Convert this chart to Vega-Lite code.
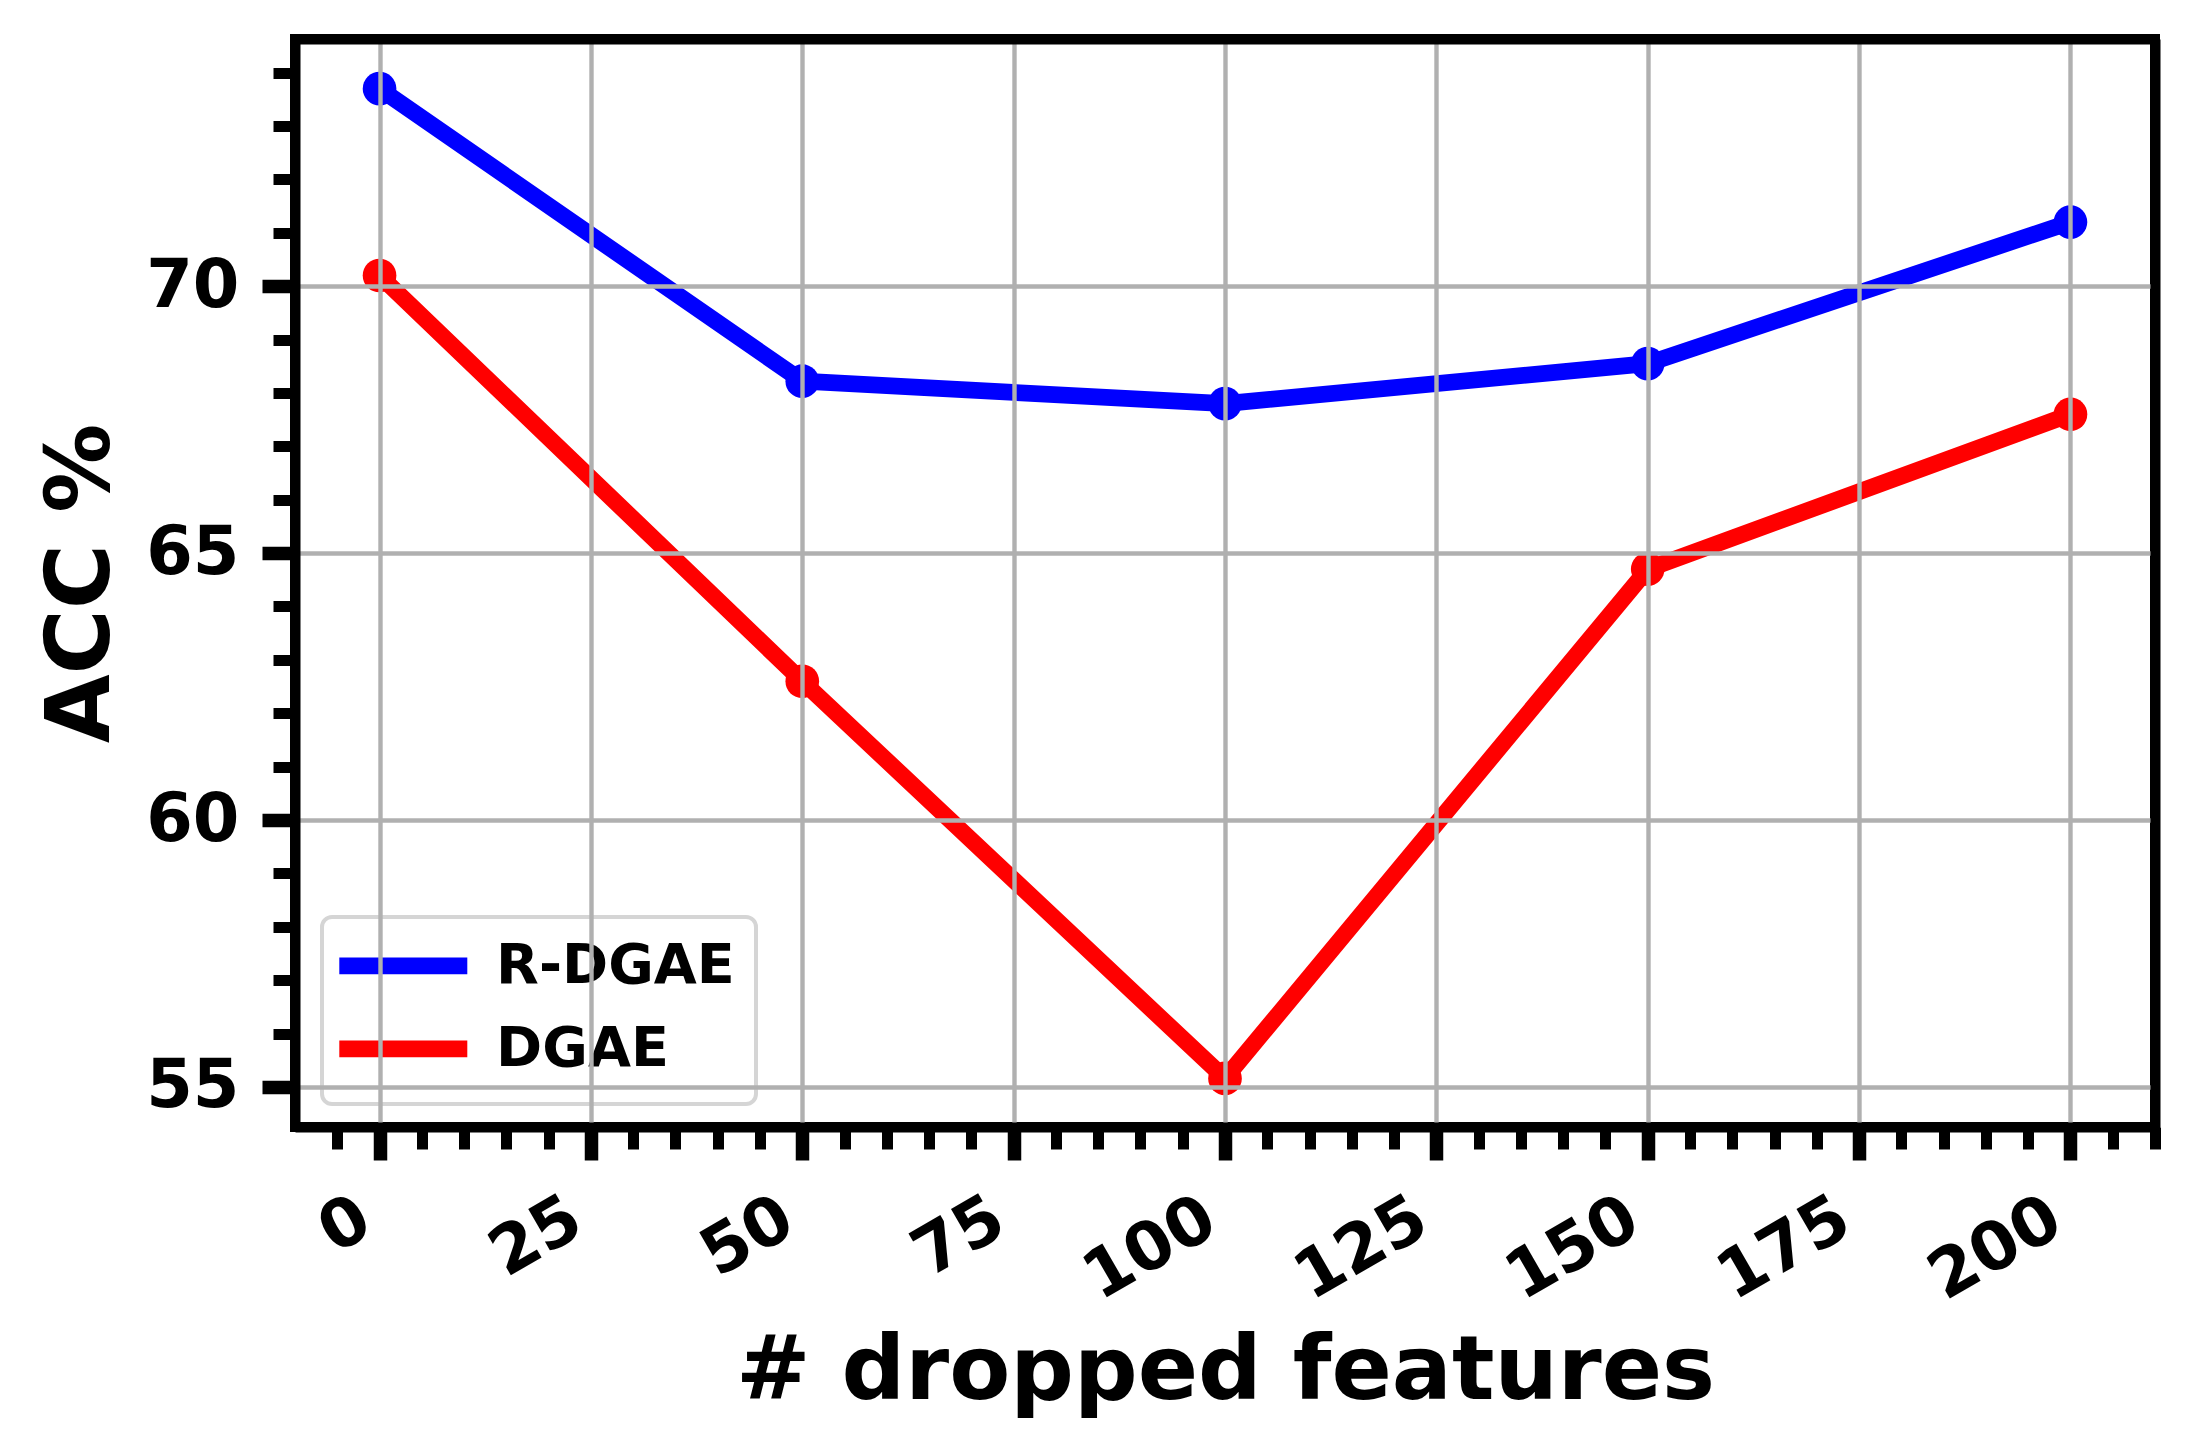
{
  "$schema": "https://vega.github.io/schema/vega-lite/v6.json",
  "width": 1860,
  "height": 1088,
  "autosize": {"type": "none"},
  "padding": {"left": 295, "top": 39, "right": 39, "bottom": 329},
  "background": "white",
  "config": {
    "font": "DejaVu Sans",
    "view": {"stroke": "black", "strokeWidth": 10}
  },
  "data": {
    "values": [
      {"method": "R-DGAE", "features": 0, "acc": 73.7},
      {"method": "R-DGAE", "features": 50, "acc": 68.22},
      {"method": "R-DGAE", "features": 100, "acc": 67.8},
      {"method": "R-DGAE", "features": 150, "acc": 68.55},
      {"method": "R-DGAE", "features": 200, "acc": 71.2},
      {"method": "DGAE", "features": 0, "acc": 70.2},
      {"method": "DGAE", "features": 50, "acc": 62.6},
      {"method": "DGAE", "features": 100, "acc": 55.16},
      {"method": "DGAE", "features": 150, "acc": 64.7},
      {"method": "DGAE", "features": 200, "acc": 67.6}
    ]
  },
  "layer": [
    {
      "mark": {"type": "line", "strokeWidth": 16.7, "strokeJoin": "round", "strokeCap": "square"},
      "encoding": {
        "x": {
          "field": "features", "type": "quantitative",
          "scale": {"domain": [-10, 210], "nice": false, "zero": false},
          "axis": {
            "orient": "bottom",
            "values": [0, 25, 50, 75, 100, 125, 150, 175, 200],
            "title": "# dropped features",
            "titleFont": "DejaVu Sans", "titleFontSize": 89, "titleFontWeight": "bold", "titleColor": "black",
            "titleBaseline": "alphabetic", "titleAlign": "center", "titleX": 930, "titleY": 271,
            "labelFont": "DejaVu Sans", "labelFontSize": 67, "labelFontWeight": "bold", "labelColor": "black",
            "labelAngle": -30, "labelAlign": "right", "labelBaseline": "top",
            "labelOffset": -31, "labelPadding": 25,
            "labelOverlap": false, "labelFlush": false, "labelBound": false,
            "ticks": true, "tickSize": 33, "tickWidth": 13.5, "tickColor": "black",
            "grid": true, "gridColor": "#b0b0b0", "gridWidth": 4.4,
            "domain": true, "domainColor": "black", "domainWidth": 10,
            "zindex": 1
          }
        },
        "y": {
          "field": "acc", "type": "quantitative",
          "scale": {"domain": [54.25, 74.63], "nice": false, "zero": false},
          "axis": {
            "orient": "left",
            "values": [55, 60, 65, 70],
            "title": "ACC %",
            "titleFont": "DejaVu Sans", "titleFontSize": 89, "titleFontWeight": "bold", "titleColor": "black",
            "titleAngle": 270, "titleBaseline": "alphabetic", "titleAlign": "center", "titleX": -187, "titleY": 544,
            "labelFont": "DejaVu Sans", "labelFontSize": 67, "labelFontWeight": "bold", "labelColor": "black",
            "labelAlign": "right", "labelBaseline": "middle", "labelPadding": 23,
            "labelOverlap": false, "labelFlush": false, "labelBound": false,
            "ticks": true, "tickSize": 33, "tickWidth": 13.5, "tickColor": "black",
            "grid": true, "gridColor": "#b0b0b0", "gridWidth": 4.4,
            "domain": true, "domainColor": "black", "domainWidth": 10,
            "zindex": 1
          }
        },
        "color": {
          "field": "method", "type": "nominal",
          "scale": {"domain": ["R-DGAE", "DGAE"], "range": ["#0000ff", "#ff0000"]},
          "legend": {
            "orient": "none", "legendX": 27, "legendY": 878,
            "title": null, "direction": "vertical",
            "symbolType": "M-4,0H4", "symbolSize": 1024, "symbolStrokeWidth": 16.7,
            "symbolOffset": 32.5,
            "labelFont": "DejaVu Sans", "labelFontSize": 55.6, "labelFontWeight": "bold", "labelColor": "black",
            "labelOffset": 65, "labelLimit": 600, "rowPadding": 15, "padding": 21,
            "fillColor": "rgba(255,255,255,0.8)", "strokeColor": "#d5d5d5", "cornerRadius": 10,
            "encode": {"legend": {"update": {"strokeWidth": {"value": 4}}}}
          }
        }
      }
    },
    {
      "mark": {"type": "circle", "size": 1134, "opacity": 1},
      "encoding": {
        "x": {
          "field": "features", "type": "quantitative",
          "scale": {"domain": [-10, 210], "nice": false, "zero": false},
          "axis": {
            "orient": "bottom",
            "values": [-5, 5, 10, 15, 20, 30, 35, 40, 45, 55, 60, 65, 70, 80, 85, 90, 95, 105, 110, 115, 120, 130, 135, 140, 145, 155, 160, 165, 170, 180, 185, 190, 195, 205, 210],
            "title": null, "labels": false, "grid": false, "domain": false,
            "ticks": true, "tickSize": 22, "tickWidth": 11, "tickColor": "black", "zindex": 1
          }
        },
        "y": {
          "field": "acc", "type": "quantitative",
          "scale": {"domain": [54.25, 74.63], "nice": false, "zero": false},
          "axis": {
            "orient": "left",
            "values": [56, 57, 58, 59, 61, 62, 63, 64, 66, 67, 68, 69, 71, 72, 73, 74],
            "title": null, "labels": false, "grid": false, "domain": false,
            "ticks": true, "tickSize": 22, "tickWidth": 11, "tickColor": "black", "zindex": 1
          }
        },
        "color": {"field": "method", "type": "nominal", "legend": null}
      }
    },
    {
      "mark": {"type": "circle", "opacity": 0},
      "encoding": {
        "x": {
          "field": "features", "type": "quantitative",
          "axis": {"orient": "top", "title": null, "labels": false, "ticks": false, "grid": false, "domain": true, "domainColor": "black", "domainWidth": 10, "zindex": 1}
        },
        "y": {
          "field": "acc", "type": "quantitative",
          "axis": {"orient": "right", "title": null, "labels": false, "ticks": false, "grid": false, "domain": true, "domainColor": "black", "domainWidth": 10, "zindex": 1}
        }
      }
    }
  ],
  "resolve": {"axis": {"x": "independent", "y": "independent"}}
}
